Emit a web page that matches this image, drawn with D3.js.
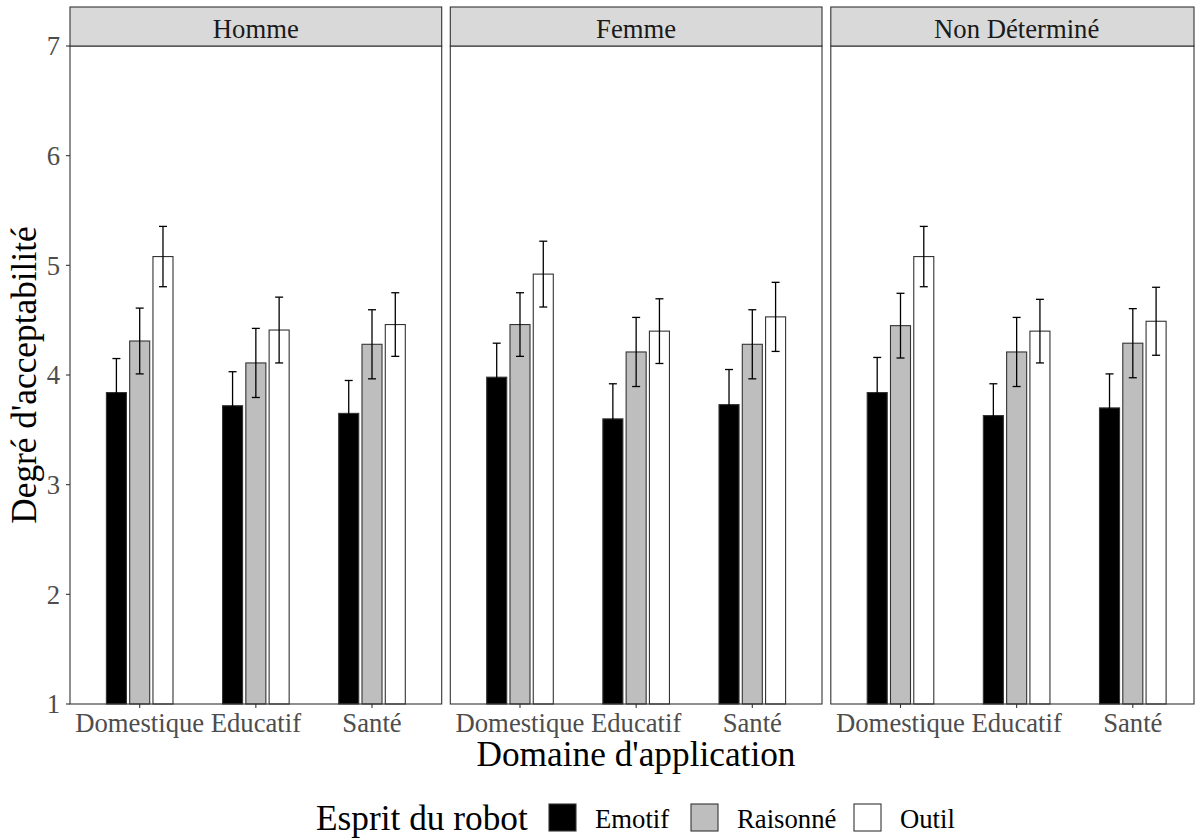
<!DOCTYPE html>
<html>
<head>
<meta charset="utf-8">
<script src="https://cdn.jsdelivr.net/npm/d3@7"></script>
<style>
  body { margin: 0; background: #fff; }
  svg text { font-family: "Liberation Serif", "Times New Roman", serif; }
</style>
</head>
<body>
<div id="chart"></div>
<script>

// facets, categories and groups
var genres   = ["Homme", "Femme", "Non Déterminé"];
var domaines = ["Domestique", "Educatif", "Santé"];
var esprits  = ["Emotif", "Raisonné", "Outil"];
var yTicks   = [1, 2, 3, 4, 5, 6, 7];

// mean acceptability, [domaine][esprit]
var moyennesHomme = [[3.84, 4.31, 5.08], [3.72, 4.11, 4.41], [3.65, 4.28, 4.46]];
var moyennesFemme = [[3.98, 4.46, 4.92], [3.60, 4.21, 4.40], [3.73, 4.28, 4.53]];
var moyennesND    = [[3.84, 4.45, 5.08], [3.63, 4.21, 4.40], [3.70, 4.29, 4.49]];

// half width of the error bars, [domaine][esprit]
var erreursHomme = [[0.31, 0.30, 0.275], [0.31, 0.315, 0.30], [0.30, 0.315, 0.29]];
var erreursFemme = [[0.31, 0.29, 0.30], [0.32, 0.315, 0.295], [0.32, 0.315, 0.315]];
var erreursND    = [[0.32, 0.295, 0.275], [0.29, 0.315, 0.29], [0.31, 0.315, 0.31]];

var moyennes = [moyennesHomme, moyennesFemme, moyennesND];
var erreurs  = [erreursHomme, erreursFemme, erreursND];

var fills = { "Emotif": "#000000", "Raisonné": "#BEBEBE", "Outil": "#FFFFFF" };

var width = 1196, height = 840;
var panelLeft = [70, 450.3, 830.8],
    panelW = 371.7,
    panelClipRight = 1194,
    stripTop = 7, plotTop = 46, plotBottom = 704;

var svg = d3.select("#chart").append("svg")
  .attr("width", width).attr("height", height);

var y = d3.scaleLinear().domain([1, 7]).range([plotBottom, plotTop]);

// dodge inside a category, in pixels
var dodge = d3.scaleBand().domain(esprits).range([-33.3, 33.3]).paddingInner(0.14);

genres.forEach(function(genre, gi) {

  var left = panelLeft[gi],
      right = Math.min(left + panelW, panelClipRight);

  // discrete scale with the usual 0.6 expansion
  var x = d3.scaleLinear().domain([-0.6, 2.6]).range([left, left + panelW]);

  var g = svg.append("g").attr("class", "panel");

  g.append("rect")
   .attr("x", left).attr("y", plotTop)
   .attr("width", right - left).attr("height", plotBottom - plotTop)
   .attr("fill", "#fff");

  var rows = [];
  domaines.forEach(function(dom, di) {
    esprits.forEach(function(esp, ei) {
      rows.push({ dom: di, esp: esp, mean: moyennes[gi][di][ei], err: erreurs[gi][di][ei] });
    });
  });

  // bars
  g.selectAll("rect.bar").data(rows).enter().append("rect")
   .attr("class", "bar")
   .attr("x", function(d) { return x(d.dom) + dodge(d.esp); })
   .attr("width", dodge.bandwidth())
   .attr("y", function(d) { return y(d.mean); })
   .attr("height", function(d) { return y(1) - y(d.mean); })
   .attr("fill", function(d) { return fills[d.esp]; })
   .attr("stroke", "#333")
   .attr("stroke-width", 1.1);

  // error bars
  var eb = g.selectAll("g.err").data(rows).enter().append("g").attr("class", "err")
            .attr("stroke", "#000").attr("stroke-width", 1.3);

  eb.append("line")
    .attr("x1", function(d) { return x(d.dom) + dodge(d.esp) + dodge.bandwidth() / 2; })
    .attr("x2", function(d) { return x(d.dom) + dodge(d.esp) + dodge.bandwidth() / 2; })
    .attr("y1", function(d) { return y(d.mean - d.err); })
    .attr("y2", function(d) { return y(d.mean + d.err); });

  [1, -1].forEach(function(s) {
    eb.append("line")
      .attr("x1", function(d) { return x(d.dom) + dodge(d.esp) + dodge.bandwidth() / 2 - 4; })
      .attr("x2", function(d) { return x(d.dom) + dodge(d.esp) + dodge.bandwidth() / 2 + 4; })
      .attr("y1", function(d) { return y(d.mean + s * d.err); })
      .attr("y2", function(d) { return y(d.mean + s * d.err); });
  });

  // panel border
  g.append("rect")
   .attr("x", left).attr("y", plotTop)
   .attr("width", right - left).attr("height", plotBottom - plotTop)
   .attr("fill", "none").attr("stroke", "#333").attr("stroke-width", 1.1);

  // strip
  g.append("rect")
   .attr("x", left).attr("y", stripTop)
   .attr("width", right - left).attr("height", plotTop - stripTop)
   .attr("fill", "#D9D9D9").attr("stroke", "#333").attr("stroke-width", 1.1);

  g.append("text")
   .attr("x", left + panelW / 2).attr("y", 38)
   .attr("text-anchor", "middle")
   .attr("font-size", 26.7).attr("fill", "#1A1A1A")
   .text(genre);

  // x axis
  var xAxis = g.append("g").attr("transform", "translate(0," + plotBottom + ")");
  domaines.forEach(function(dom, di) {
    xAxis.append("line")
         .attr("x1", x(di)).attr("x2", x(di))
         .attr("y1", 0).attr("y2", 4)
         .attr("stroke", "#333").attr("stroke-width", 1.1);
    xAxis.append("text")
         .attr("x", x(di)).attr("y", 27.7)
         .attr("text-anchor", "middle")
         .attr("font-size", 26.7).attr("fill", "#4D4D4D")
         .text(dom);
  });
});

// y axis on the first panel
var yAxis = svg.append("g").attr("transform", "translate(" + panelLeft[0] + ",0)");
yAxis.selectAll("line").data(yTicks).enter().append("line")
     .attr("x1", -4).attr("x2", 0)
     .attr("y1", function(d) { return y(d); }).attr("y2", function(d) { return y(d); })
     .attr("stroke", "#333").attr("stroke-width", 1.1);
yAxis.selectAll("text").data(yTicks).enter().append("text")
     .attr("x", -10).attr("y", function(d) { return y(d); })
     .attr("dy", "0.35em")
     .attr("text-anchor", "end")
     .attr("font-size", 26.7).attr("fill", "#4D4D4D")
     .text(function(d) { return d; });

// axis titles
svg.append("text")
   .attr("x", 636).attr("y", 766)
   .attr("text-anchor", "middle")
   .attr("font-size", 35.3)
   .text("Domaine d'application");

svg.append("text")
   .attr("transform", "translate(36," + ((plotTop + plotBottom) / 2) + ") rotate(-90)")
   .attr("text-anchor", "middle")
   .attr("font-size", 35.3)
   .text("Degré d'acceptabilité");

// legend
var legend = svg.append("g");
legend.append("text")
      .attr("x", 316).attr("y", 830)
      .attr("font-size", 35.3)
      .text("Esprit du robot");

var keyX = [549, 691, 854];
esprits.forEach(function(esp, i) {
  legend.append("rect")
        .attr("x", keyX[i]).attr("y", 804)
        .attr("width", 27).attr("height", 27)
        .attr("fill", fills[esp]).attr("stroke", "#333").attr("stroke-width", 1.1);
  legend.append("text")
        .attr("x", keyX[i] + 46).attr("y", 828)
        .attr("font-size", 26.7)
        .text(esp);
});

</script>
</body>
</html>
